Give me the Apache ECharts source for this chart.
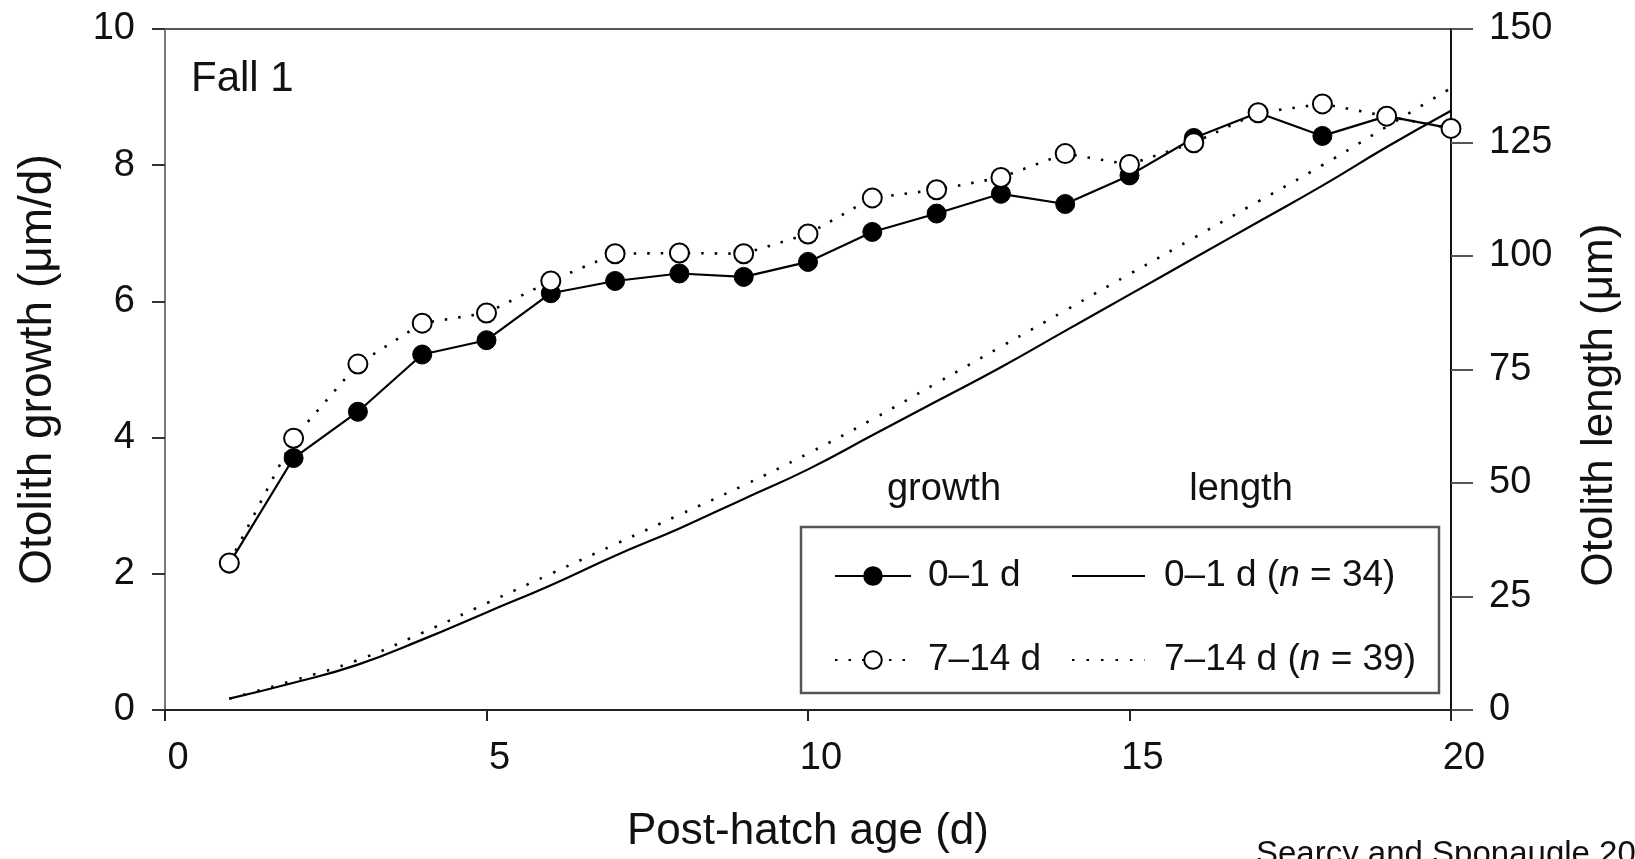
<!DOCTYPE html>
<html>
<head>
<meta charset="utf-8">
<script src="https://cdn.jsdelivr.net/npm/echarts@6/dist/echarts.min.js"></script>
<style>
html,body{margin:0;padding:0;background:#fff;}
#c{width:1635px;height:859px;}
</style>
</head>
<body>
<div id="c"></div>
<script>
// ---- data ----
const days = [1,2,3,4,5,6,7,8,9,10,11,12,13,14,15,16,17,18,19,20];
const growth01  = [2.15,3.70,4.38,5.22,5.43,6.12,6.30,6.41,6.36,6.58,7.02,7.29,7.58,7.43,7.85,8.40,8.77,8.43,8.72,8.54];
const growth714 = [2.16,3.99,5.08,5.68,5.83,6.30,6.70,6.71,6.70,6.99,7.52,7.64,7.82,8.17,8.01,8.33,8.77,8.90,8.72,8.54];
const length01  = [2.5,6,10,15.5,21.5,27.5,34,40,46.5,53,60.5,68,75.5,83.5,91.5,99.5,107.5,115.5,124,132];
const length714 = [2.5,6.5,11,17,23.5,30,36.5,43,49.5,56.5,64,72,80,88,96,104,112,120,128.5,137];
const xTicks = [0,5,10,15,20];
const yLeftTicks = [0,2,4,6,8,10];
const yRightTicks = [0,25,50,75,100,125,150];
const names = {g01:'0\u20131 d', g714:'7\u201314 d', l01:'0\u20131 d (n = 34)', l714:'7\u201314 d (n = 39)'};

const pair = (xs, ys) => xs.map((x,i)=>[x, ys[i]]);
const FONT = '"Liberation Sans", Arial, Helvetica, sans-serif';
const TXT = '#111';

const chart = echarts.init(document.getElementById('c'), null, {renderer:'canvas'});
const option = {
  animation:false,
  backgroundColor:'#fff',
  textStyle:{fontFamily:FONT},
  grid:{left:165,right:184,top:29,bottom:145,show:true,borderColor:'#555',borderWidth:2,backgroundColor:'transparent'},
  xAxis:{
    type:'value', min:xTicks[0], max:xTicks[xTicks.length-1], interval:5,
    name:'Post-hatch age (d)', nameLocation:'middle', nameGap:100,
    nameTextStyle:{fontSize:44,color:TXT,fontFamily:FONT},
    axisLine:{show:true,lineStyle:{color:'#222',width:2}},
    axisTick:{show:true,inside:false,length:11,lineStyle:{color:'#222',width:2}},
    axisLabel:{fontSize:38,color:TXT,margin:30,fontFamily:FONT,padding:[0,0,0,26]},
    splitLine:{show:false}
  },
  yAxis:[{
    type:'value', min:0, max:10, interval:2, position:'left',
    name:'Otolith growth (\u03bcm/d)', nameLocation:'middle', nameGap:104, nameRotate:90,
    nameTextStyle:{fontSize:46,color:TXT,fontFamily:FONT},
    axisLine:{show:true,lineStyle:{color:'#777',width:2}},
    axisTick:{show:true,length:13,lineStyle:{color:'#333',width:2}},
    axisLabel:{fontSize:38,color:TXT,margin:30,fontFamily:FONT},
    splitLine:{show:false}
  },{
    type:'value', min:0, max:150, interval:25, position:'right',
    axisLine:{show:true,lineStyle:{color:'#111',width:2}},
    axisTick:{show:true,length:22,lineStyle:{color:'#555',width:2}},
    axisLabel:{fontSize:38,color:TXT,margin:38,fontFamily:FONT},
    splitLine:{show:false}
  }],
  legend:[{
    data:[names.g01, names.g714], orient:'vertical', left:829, top:549,
    itemWidth:76, itemHeight:22, itemGap:40,
    textStyle:{fontSize:37,color:TXT,fontFamily:FONT,lineHeight:44,padding:[0,0,0,12]},
    selectedMode:false
  },{
    data:[
      {name:names.l01, itemStyle:{opacity:0}},
      {name:names.l714, itemStyle:{opacity:0}}
    ],
    orient:'vertical', left:1066, top:549,
    itemWidth:73, itemHeight:22, itemGap:40,
    textStyle:{fontSize:37,color:TXT,fontFamily:FONT,lineHeight:44,padding:[0,0,0,14],
      rich:{i:{fontStyle:'italic',fontSize:37,color:TXT,fontFamily:FONT,lineHeight:44}}},
    formatter:(n)=>n.replace('(n','({i|n}'),
    selectedMode:false
  }],
  series:[
    {name:names.l01,type:'line',yAxisIndex:1,data:pair(days,length01),symbol:'none',smooth:true,
     lineStyle:{color:'#000',width:2.2,type:'solid'},itemStyle:{color:'#000'},z:2},
    {name:names.l714,type:'line',yAxisIndex:1,data:pair(days,length714),symbol:'none',smooth:true,
     lineStyle:{color:'#000',width:2.6,type:[2.5,12]},itemStyle:{color:'#000'},z:2},
    {name:names.g01,type:'line',yAxisIndex:0,data:pair(days,growth01),symbol:'circle',symbolSize:19,
     lineStyle:{color:'#000',width:2.2},itemStyle:{color:'#000',borderColor:'#000',borderWidth:1},z:3},
    {name:names.g714,type:'line',yAxisIndex:0,data:pair(days,growth714),symbol:'circle',symbolSize:19,
     lineStyle:{color:'#000',width:2.6,type:[2.5,11]},itemStyle:{color:'#fff',borderColor:'#000',borderWidth:2},z:4}
  ],
  graphic:[
    {type:'text',left:191,top:58,style:{text:'Fall 1',font:'42px '+FONT,fill:TXT}},
    {type:'text',x:944,y:490,style:{text:'growth',font:'38px '+FONT,fill:TXT,align:'center',verticalAlign:'middle'}},
    {type:'text',x:1241,y:490,style:{text:'length',font:'38px '+FONT,fill:TXT,align:'center',verticalAlign:'middle'}},
    {type:'rect',shape:{x:801,y:527,width:638,height:166},style:{fill:'none',stroke:'#555',lineWidth:2.5},z:1},
    {type:'text',x:1600,y:405,rotation:Math.PI/2,style:{text:'Otolith length (\u03bcm)',font:'44px '+FONT,fill:TXT,align:'center',verticalAlign:'middle'}},
    {type:'text',x:1256,y:838,style:{text:'Searcy and Sponaugle 2000',font:'33px '+FONT,fill:TXT,align:'left',verticalAlign:'top'}}
  ]
};
chart.setOption(option);
</script>
</body>
</html>
